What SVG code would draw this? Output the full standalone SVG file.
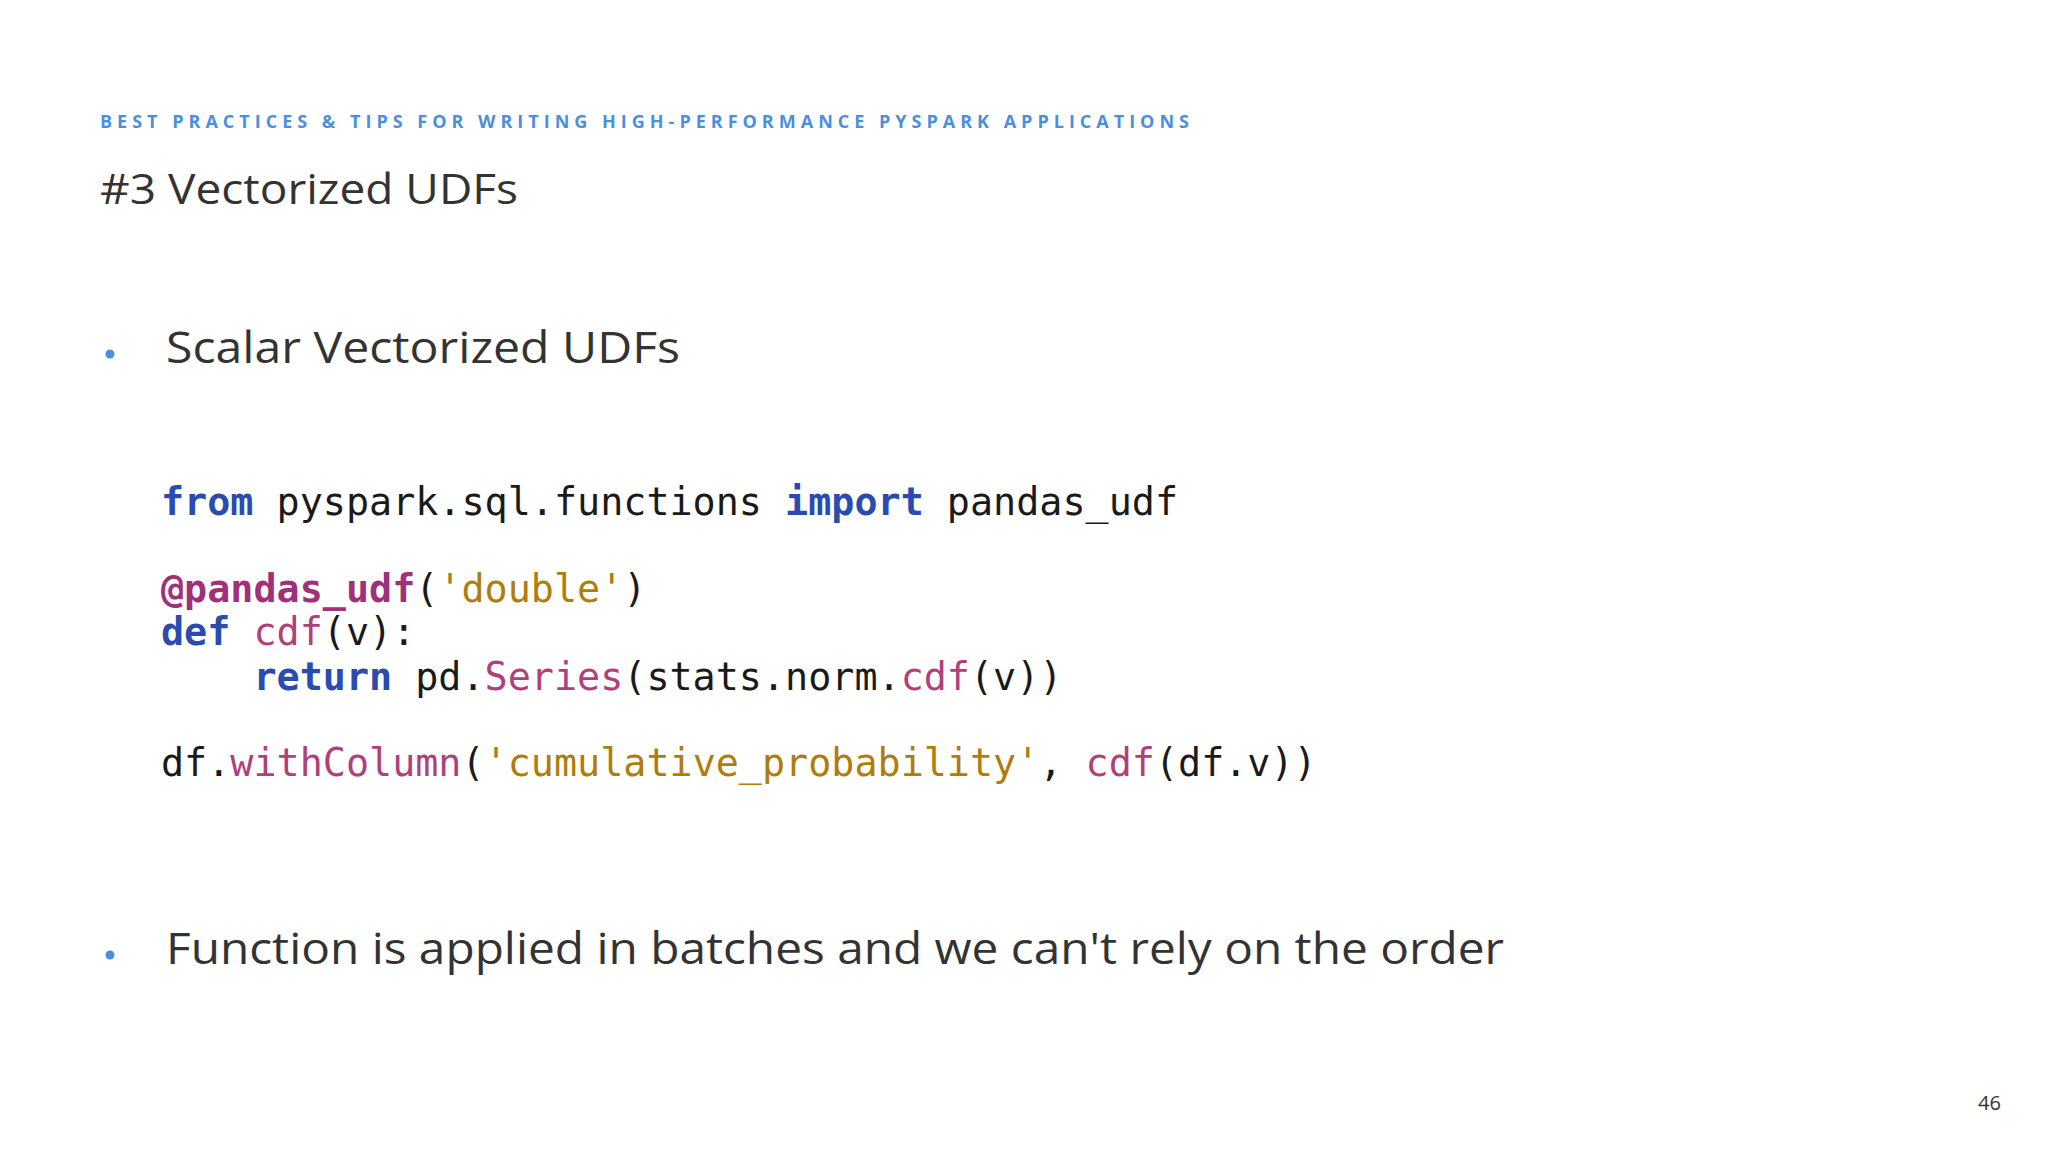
<svg xmlns="http://www.w3.org/2000/svg" width="2048" height="1152" viewBox="0 0 2048 1152">
<style>
.s{font-family:"Open Sans","Liberation Sans",sans-serif;fill:#333}
.h{font-family:"Open Sans","Liberation Sans",sans-serif;font-weight:bold;fill:#4a8fe0;font-size:18px}
.c{font-family:"DejaVu Sans Mono","Liberation Mono",monospace;font-size:38.4px;fill:#1a1a1a;white-space:pre}
.k{fill:#2a4bb0;font-weight:bold}
.d{fill:#a0307a;font-weight:bold}
.q{fill:#b07c0c}
.f{fill:#b0407a}
</style>
<rect width="2048" height="1152" fill="#fff"/>
<g id="header"><text class="h" x="100" y="128" textLength="1089" lengthAdjust="spacing">BEST PRACTICES &amp; TIPS FOR WRITING HIGH-PERFORMANCE PYSPARK APPLICATIONS</text></g>
<g id="title"><text class="s" x="100" y="204" font-size="42" textLength="418" lengthAdjust="spacingAndGlyphs">#3 Vectorized UDFs</text></g>
<g id="bullet1"><circle cx="110" cy="354" r="4.5" fill="#4a8fe0"/><text class="s" x="166" y="363" font-size="44" textLength="514" lengthAdjust="spacingAndGlyphs">Scalar Vectorized UDFs</text></g>
<g id="code">
<text class="c" x="161" y="515"><tspan class="k">from</tspan> pyspark.sql.functions <tspan class="k">import</tspan> pandas_udf</text>
<text class="c" x="161" y="602"><tspan class="d">@pandas_udf</tspan>(<tspan class="q">'double'</tspan>)</text>
<text class="c" x="161" y="645"><tspan class="k">def</tspan> <tspan class="f">cdf</tspan>(v):</text>
<text class="c" x="161" y="690">    <tspan class="k">return</tspan> pd.<tspan class="f">Series</tspan>(stats.norm.<tspan class="f">cdf</tspan>(v))</text>
<text class="c" x="161" y="776">df.<tspan class="f">withColumn</tspan>(<tspan class="q">'cumulative_probability'</tspan>, <tspan class="f">cdf</tspan>(df.v))</text>
</g>
<g id="bullet2"><circle cx="110" cy="955" r="4.5" fill="#4a8fe0"/><text class="s" x="166" y="964" font-size="44" textLength="1338" lengthAdjust="spacingAndGlyphs">Function is applied in batches and we can't rely on the order</text></g>
<g id="page"><text class="s" x="1978" y="1110" font-size="20" fill="#222">46</text></g>
</svg>
